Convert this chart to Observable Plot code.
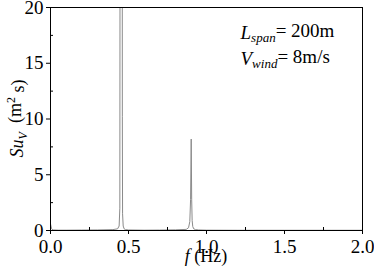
<!DOCTYPE html>
<html>
<head>
<meta charset="utf-8">
<script src="https://cdn.jsdelivr.net/npm/d3@7"></script>
<script src="https://cdn.jsdelivr.net/npm/@observablehq/plot@0.6"></script>
<style>
  html, body { margin: 0; padding: 0; background: #fff; }
  #chart svg { display: block; }
</style>
</head>
<body>
<div id="chart"></div>
<script>
// Spectrum data (frequency in Hz, PSD in m^2 s)
const freq = [0, 0.003, 0.006, 0.01, 0.02, 0.05, 0.1, 0.2, 0.3, 0.4, 0.43, 0.44, 0.4445, 0.4465, 0.452, 0.4595, 0.4605, 0.462, 0.466, 0.472, 0.48, 0.5, 0.6, 0.7, 0.8, 0.87, 0.885, 0.893, 0.898, 0.902, 0.905, 0.908, 0.912, 0.918, 0.93, 0.95, 1.0, 1.2, 1.5, 1.8, 2.0];
const psd  = [0.6, 0.4, 0.2, 0.1, 0.05, 0.03, 0.03, 0.04, 0.05, 0.08, 0.15, 0.4, 2.0, 40, 48, 40, 10.2, 1.5, 0.4, 0.15, 0.08, 0.05, 0.03, 0.04, 0.06, 0.1, 0.25, 0.8, 2.8, 8.2, 2.8, 0.9, 0.35, 0.15, 0.08, 0.05, 0.03, 0.02, 0.02, 0.02, 0.02];

const xMajor = [0, 0.5, 1.0, 1.5, 2.0];
const xMinor = [0.25, 0.75, 1.25, 1.75];
const yMajor = [0, 5, 10, 15, 20];
const yMinor = [2.5, 7.5, 12.5, 17.5];

const notes = [
  {main: "L", sub: "span", rest: "= 200m"},
  {main: "V", sub: "wind", rest: "= 8m/s"}
];

const data = freq.map((f, i) => ({f, s: psd[i]}));

const W = 374, H = 273;
const mL = 50, mR = 12, mT = 7, mB = 43;
const fontFam = "Liberation Serif";

const chart = Plot.plot({
  width: W,
  height: H,
  marginLeft: mL,
  marginRight: mR,
  marginTop: mT,
  marginBottom: mB,
  style: {fontFamily: fontFam, fontSize: "19px", color: "#000", background: "#fff", overflow: "visible"},
  x: {domain: [0, 2]},
  y: {domain: [0, 20]},
  marks: [
    Plot.line(data, {x: "f", y: "s", stroke: "#8a8a8a", strokeWidth: 1, clip: true}),
    Plot.axisX({ticks: xMajor, tickSize: 4, tickPadding: 5, tickFormat: d3.format(".1f"), label: null, stroke: "#000", fontSize: 19}),
    Plot.axisX({ticks: xMinor, tickSize: -3, tickFormat: () => "", label: null, stroke: "#000"}),
    Plot.axisY({ticks: yMajor, tickSize: 4, tickPadding: 3, tickFormat: d3.format("d"), label: null, stroke: "#000", fontSize: 19}),
    Plot.axisY({ticks: yMinor, tickSize: -3, tickFormat: () => "", label: null, stroke: "#000"}),
    Plot.frame({stroke: "#000", strokeWidth: 1}),
    Plot.text([notes[0]], {text: "main", frameAnchor: "top-left", textAnchor: "start", lineAnchor: "bottom", dx: 190, dy: 31, fontSize: 19, fontStyle: "italic", fill: "#000", className: "note0"}),
    Plot.text([notes[1]], {text: "main", frameAnchor: "top-left", textAnchor: "start", lineAnchor: "bottom", dx: 190, dy: 57, fontSize: 19, fontStyle: "italic", fill: "#000", className: "note1"})
  ]
});

document.getElementById("chart").appendChild(chart);

const svg = d3.select(chart);

// Annotations with subscripts
notes.forEach((n, i) => {
  const t = svg.selectAll(`.note${i} text`);
  t.text(null);
  t.append("tspan").attr("font-style", "italic").text(n.main);
  t.append("tspan").attr("font-style", "italic").attr("font-size", 13).attr("dy", "0.3em").text(n.sub);
  t.append("tspan").attr("font-style", "normal").attr("dy", "-0.3em").text(n.rest);
});

// x-axis label
const xl = svg.append("text")
  .attr("x", mL + (W - mL - mR) / 2)
  .attr("y", H - 11)
  .attr("text-anchor", "middle")
  .attr("font-size", 18)
  .attr("fill", "#000");
xl.append("tspan").attr("font-style", "italic").text("f");
xl.append("tspan").text(" (Hz)");

// y-axis label
const cy = mT + (H - mT - mB) / 2;
const yl = svg.append("text")
  .attr("transform", `translate(23,${cy}) rotate(-90)`)
  .attr("text-anchor", "middle")
  .attr("font-size", 18)
  .attr("fill", "#000");
yl.append("tspan").attr("font-style", "italic").text("Su");
yl.append("tspan").attr("font-style", "italic").attr("font-size", 12).attr("dy", "0.3em").text("V");
yl.append("tspan").attr("dy", "-0.3em").text("  (m");
yl.append("tspan").attr("font-size", 12).attr("dy", "-0.5em").text("2");
yl.append("tspan").attr("dy", "0.5em").text(" s)");

// force serif font on every text
svg.selectAll("text, tspan").style("font-family", "'Liberation Serif', 'Times New Roman', serif");
</script>
</body>
</html>
